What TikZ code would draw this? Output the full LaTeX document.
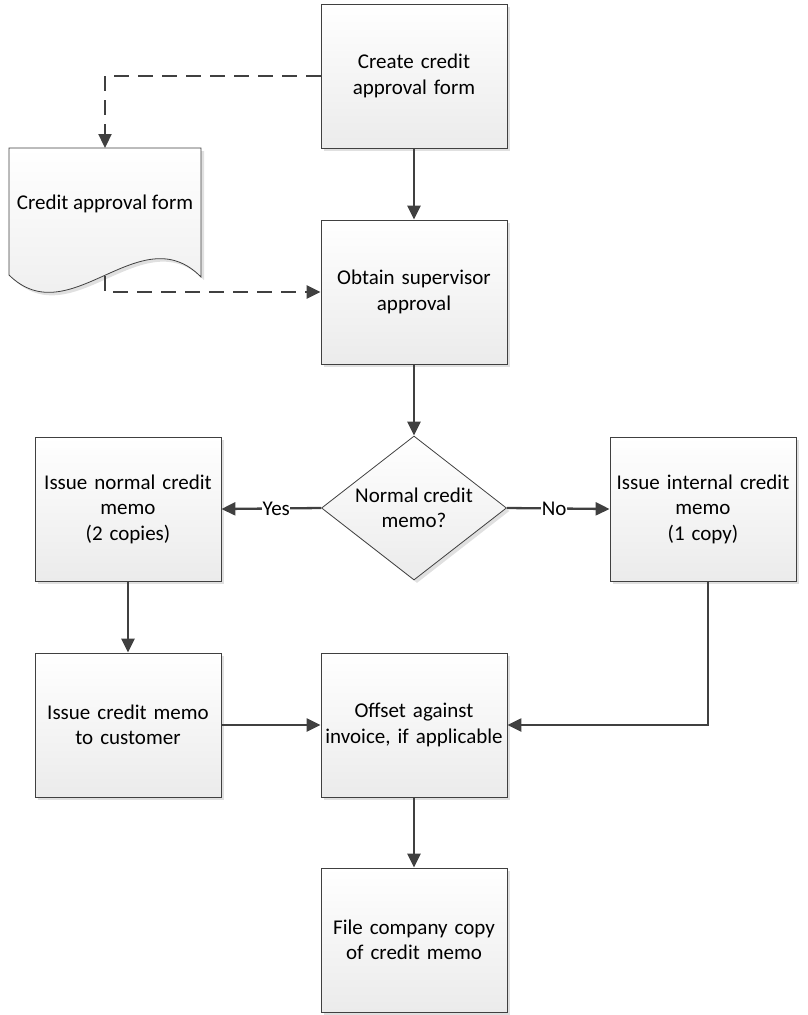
\documentclass[tikz,border=0pt]{standalone}
\usepackage{fontspec}
\setmainfont{Carlito}
\usetikzlibrary{arrows.meta,shapes.geometric,shadows}
\definecolor{linec}{HTML}{404040}
\definecolor{fillbot}{HTML}{EBEBEB}
\tikzset{
  txt/.style={font=\fontsize{21}{25.5}\selectfont},
  boxfill/.style={top color=white,bottom color=fillbot,
    drop shadow={shadow xshift=3pt,shadow yshift=-3pt,fill=black,opacity=0.12}},
  procbox/.style={draw=linec,line width=0.8pt,boxfill,minimum width=186pt,minimum height=144pt,
    inner sep=0pt,align=center,text width=180pt,txt},
  decbox/.style={draw=linec,line width=0.8pt,boxfill,shape=diamond,minimum width=185pt,minimum height=144pt,
    inner sep=0pt},
  conn/.style={draw=linec,line width=2.3pt,-{Triangle[length=14pt,width=13pt]}},
  dconn/.style={conn,dash pattern=on 15pt off 9pt},
  lbl/.style={fill=white,inner sep=0.5pt,txt}
}
\begin{document}
\begin{tikzpicture}[x=1pt,y=-1pt]
\useasboundingbox (0,0) rectangle (807,1015);
% nodes
\node[procbox] (create) at (414,76) {Create credit\\approval form};
\node[procbox] (obtain) at (414,292) {Obtain supervisor\\approval};
\node[decbox] (dec) at (414,508) {};
\node[align=center,inner sep=0pt,txt] (dectext) at (414,508) {Normal credit\\memo?};
\node[procbox] (normal) at (128,509) {Issue normal credit\\memo\\(2 copies)};
\node[procbox] (internal) at (703,509) {Issue internal credit\\memo\\(1 copy)};
\node[procbox] (customer) at (128,725) {Issue credit memo\\to customer};
\node[procbox] (offset) at (414,725) {Offset against\\invoice, if applicable};
\node[procbox] (file) at (414,940) {File company copy\\of credit memo};
% document shape
\path[draw=linec,line width=0.8pt,boxfill]
  (9,148) -- (201,148) -- (201,277) .. controls (140,215) and (70,335) .. (9,275) -- cycle;
\node[inner sep=0pt,txt] (doc) at (105,204) {Credit approval form};
\coordinate (doctop) at (105,148);
\coordinate (docbot) at (105,276);
\coordinate (dturn) at (105,76);
% connectors
\draw[dconn] (create.west) -- (dturn) -- (doctop);
\draw[dconn] (docbot) |- (obtain.west);
\draw[conn] (create) -- (obtain);
\draw[conn] (obtain) -- (dec);
\draw[conn] (dec.west) -- node[lbl,pos=0.45] (yes) {Yes} (normal.east);
\draw[conn] (dec.east) -- node[lbl,pos=0.46] (no) {No} (internal.west);
\draw[conn] (normal) -- (customer);
\draw[conn] (customer) -- (offset);
\coordinate (intb) at (708,581);
\draw[conn] (intb) |- (offset.east);
\draw[conn] (offset) -- (file);
\end{tikzpicture}
\end{document}
